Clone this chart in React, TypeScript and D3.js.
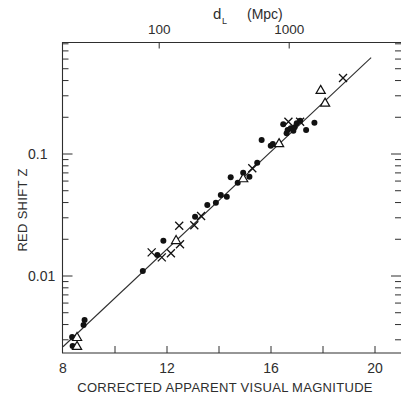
import React from "react";
import * as d3 from "d3";

// Filled circles
const dotMag = [8.35, 8.37, 8.79, 8.83, 11.07, 11.63, 11.86, 13.08, 13.55, 13.88, 14.07, 14.30, 14.45, 14.72, 14.93, 15.17, 15.47, 15.64, 15.99, 16.07, 16.47, 16.60, 16.64, 16.76, 16.86, 16.91, 16.99, 17.12, 17.35, 17.67];
const dotZ = [0.00316, 0.00267, 0.00396, 0.00436, 0.0110, 0.01486, 0.01946, 0.0306, 0.0382, 0.0399, 0.0461, 0.0447, 0.0644, 0.0582, 0.0703, 0.0652, 0.0849, 0.1303, 0.117, 0.1208, 0.175, 0.148, 0.157, 0.1626, 0.155, 0.1656, 0.1786, 0.1875, 0.157, 0.1807];
// Crosses
const crossMag = [11.41, 11.80, 12.15, 12.47, 12.50, 13.05, 13.31, 15.28, 16.67, 17.12, 18.77];
const crossZ = [0.01563, 0.01422, 0.01535, 0.0258, 0.0182, 0.0261, 0.031, 0.0764, 0.184, 0.184, 0.42];
// Open triangles
const triMag = [8.54, 8.54, 12.35, 14.93, 16.31, 17.91, 18.08];
const triZ = [0.00316, 0.00267, 0.0197, 0.0632, 0.1225, 0.335, 0.263];
// Hubble line: log z = 0.2 m + c
const lineMag = [8.0, 19.85];
const lineSlope = 0.2;
const lineIntercept = -4.18;
// Axis ticks
const xTicks = [10, 12, 14, 16, 18, 20];
const xLabels = [8, 12, 16, 20];
const yMajor = [0.01, 0.1];
const yLabels = ["0.01", "0.1"];
const dTicks = [100, 1000];

const INK = "#2e2e2e";
const FONT = "'Liberation Sans', Arial, sans-serif";

export default function App() {
  const W = 401, H = 397;
  const L = 62.5, R = 401, T = 42.5, B = 353;
  const x = d3.scaleLinear().domain([8, 20]).range([63, 375]);
  const y = d3.scaleLog().domain([0.01, 0.1]).range([276, 154]);
  const dToMag = (d: number) => 11.7 + 5 * Math.log10(d / 100);

  const zTop = y.invert(T);
  const zBot = y.invert(B);
  const logTicks: number[] = [];
  for (let e = -3; e <= 0; e++) {
    for (let k = 1; k <= 9; k++) {
      const v = k * Math.pow(10, e);
      if (v >= zBot && v <= zTop) logTicks.push(v);
    }
  }

  const lineData = lineMag.map((m) => [m, Math.pow(10, lineSlope * m + lineIntercept)] as [number, number]);
  const linePath = d3.line<[number, number]>().x((d) => x(d[0])).y((d) => y(d[1]))(lineData) || "";

  const triPath = (cx: number, cy: number) => {
    const s = 4.6;
    return `M${cx},${cy - s}L${cx + s},${cy + s * 0.75}L${cx - s},${cy + s * 0.75}Z`;
  };

  return (
    <svg width={W} height={H} style={{ position: "absolute", left: 0, top: 0, background: "#fff" }}>
      <rect x={0} y={0} width={W} height={H} fill="#fff" />
      <path d={`M${R},${T}H${L}V${B}H${R}`} fill="none" stroke={INK} strokeWidth={1.1} />
      {xTicks.map((t) => (
        <line key={"xt" + t} x1={x(t)} x2={x(t)} y1={B} y2={B - 7} stroke={INK} strokeWidth={1} />
      ))}
      {xLabels.map((t) => (
        <text key={"xl" + t} x={x(t)} y={373} textAnchor="middle" fontFamily={FONT} fontSize={14} fill={INK}>
          {t}
        </text>
      ))}
      {logTicks.map((v, i) => {
        const major = yMajor.some((m) => Math.abs(m - v) / m < 1e-6);
        const len = major ? 10 : 6;
        return (
          <g key={"yt" + i}>
            <line x1={L} x2={L + len} y1={y(v)} y2={y(v)} stroke={INK} strokeWidth={1} />
            <line x1={R} x2={R - len} y1={y(v)} y2={y(v)} stroke={INK} strokeWidth={1} />
          </g>
        );
      })}
      {yMajor.map((v, i) => (
        <text key={"yl" + i} x={28} y={y(v) + 5} textAnchor="start" fontFamily={FONT} fontSize={14} fill={INK}>
          {yLabels[i]}
        </text>
      ))}
      {dTicks.map((d) => (
        <g key={"dt" + d}>
          <line x1={x(dToMag(d))} x2={x(dToMag(d))} y1={T} y2={T + 6} stroke={INK} strokeWidth={1} />
          <text x={x(dToMag(d))} y={34} textAnchor="middle" fontFamily={FONT} fontSize={13.5} fill={INK}>
            {d}
          </text>
        </g>
      ))}
      <text x={213} y={19} fontFamily={FONT} fontSize={15} fill={INK}>d</text>
      <text x={222} y={24} fontFamily={FONT} fontSize={9} fill={INK}>L</text>
      <text x={247} y={19} fontFamily={FONT} fontSize={14} fill={INK}>(Mpc)</text>
      <text x={225} y={392} textAnchor="middle" fontFamily={FONT} fontSize={13} fill={INK} letterSpacing={0.3}>
        CORRECTED APPARENT VISUAL MAGNITUDE
      </text>
      <text transform="translate(27,210) rotate(-90)" textAnchor="middle" fontFamily={FONT} fontSize={13} fill={INK} letterSpacing={0.3}>
        RED SHIFT Z
      </text>
      <path d={linePath} fill="none" stroke={INK} strokeWidth={1.1} />
      {dotMag.map((m, i) => (
        <circle key={"d" + i} cx={x(m)} cy={y(dotZ[i])} r={3} fill="#111" />
      ))}
      {crossMag.map((m, i) => {
        const cx = x(m), cy = y(crossZ[i]), s = 4;
        return (
          <path key={"c" + i} d={`M${cx - s},${cy - s}L${cx + s},${cy + s}M${cx - s},${cy + s}L${cx + s},${cy - s}`} stroke="#111" strokeWidth={1.3} fill="none" />
        );
      })}
      {triMag.map((m, i) => (
        <path key={"t" + i} d={triPath(x(m), y(triZ[i]))} fill="#fff" stroke="#111" strokeWidth={1.2} />
      ))}
    </svg>
  );
}
